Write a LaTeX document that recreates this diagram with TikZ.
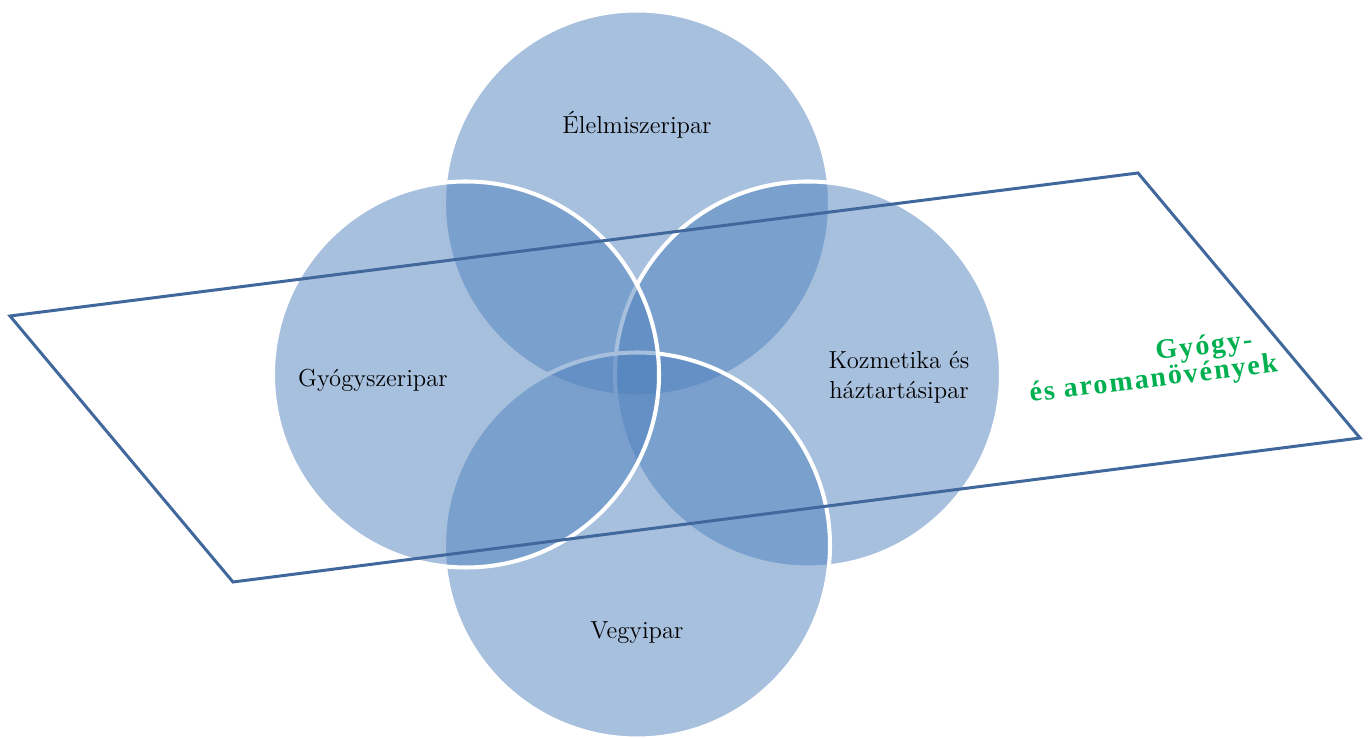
\documentclass[tikz,border=0pt]{standalone}
\usepackage{fontspec}
\newfontfamily\herbfont[LetterSpace=7]{Liberation Serif}
\definecolor{blobblue}{HTML}{4F81BD}
\definecolor{frameblue}{HTML}{41689C}
\definecolor{herbgreen}{HTML}{00B050}
\tikzset{
  blob/.style={circle,minimum size=7.72cm,inner sep=0pt,fill=blobblue,fill opacity=0.5,draw=white,line width=2.3pt},
  sector/.style={font=\fontsize{14}{17}\selectfont,align=center,text=black},
  frame/.style={draw=frameblue,line width=1.7pt,line join=miter},
  herb/.style={rotate=7,align=right,text=herbgreen,font=\herbfont\bfseries\fontsize{16}{15}\selectfont}
}

\begin{document}
\begin{tikzpicture}
\useasboundingbox (0,0) rectangle (27.36,14.76);
\coordinate(mid) at (12.74,7.27);
\node(Elelmiszer) [blob] at ([yshift=3.42cm]mid) {};
\node(Kozmetika)  [blob] at ([xshift=3.42cm]mid) {};
\node(Vegyi)      [blob] at ([yshift=-3.42cm]mid) {};
\node(Gyogyszer)  [blob] at ([xshift=-3.42cm]mid) {};
\node(ElelmiszerText) [sector] at ([yshift=1.58cm]Elelmiszer.center) {Élelmiszeripar};
\node(KozmetikaText)  [sector] at ([xshift=1.82cm,yshift=-0.06cm]Kozmetika.center) {Kozmetika és\\háztartásipar};
\node(VegyiText)      [sector] at ([yshift=-1.74cm]Vegyi.center) {Vegyipar};
\node(GyogyszerText)  [sector] at ([xshift=-1.86cm,yshift=-0.12cm]Gyogyszer.center) {Gyógyszeripar};
\coordinate(FrameNW) at (0.2,8.44);
\coordinate(FrameNE) at (22.76,11.30);
\coordinate(FrameSE) at (27.2,6.0);
\coordinate(FrameSW) at (4.66,3.12);
\draw[frame] (FrameNW) -- (FrameNE) -- (FrameSE) -- (FrameSW) -- cycle;
\node(Herbs) [herb] at (23.04,7.42) {Gyógy-\hspace*{0.44cm}\\és aromanövények};
\end{tikzpicture}
\end{document}
